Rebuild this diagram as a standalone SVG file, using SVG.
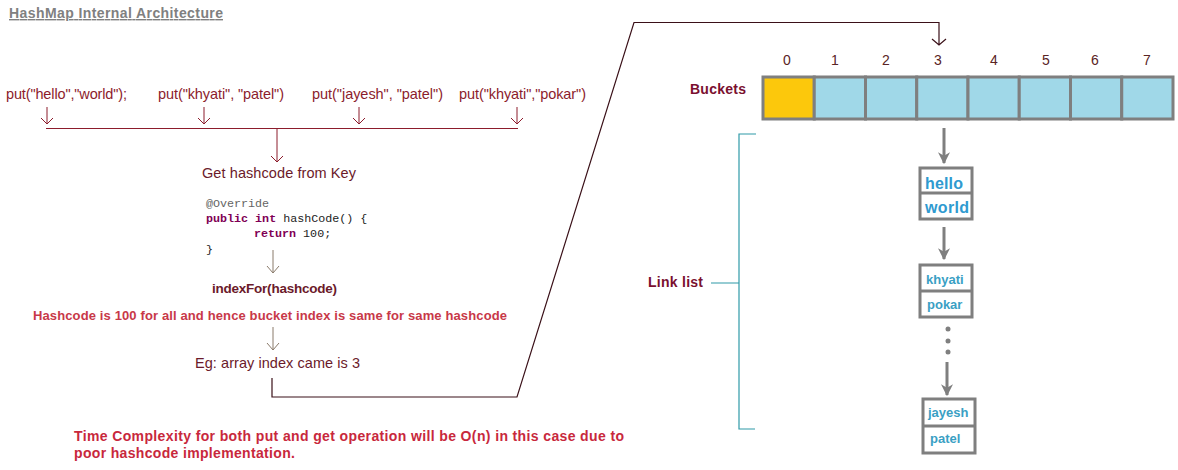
<svg xmlns="http://www.w3.org/2000/svg" width="1178" height="470" viewBox="0 0 1178 470">
<style>
text{font-family:"Liberation Sans",Arial,sans-serif}
.put{font-size:14.5px;fill:#8c1c2c}
.dark{font-size:14.5px;fill:#6b1a2a}
.code{font-family:"Liberation Mono","DejaVu Sans Mono",monospace;font-size:11.7px;fill:#222}
.kw{fill:#7f0055;font-weight:bold}
.ann{fill:#646464}
.red{fill:#c8283c;font-weight:bold}
.idx{font-size:14px;fill:#5a2424;text-anchor:middle}
.lbl{font-size:14px;font-weight:bold;fill:#7a1030}
.cell{fill:#a0d8e8;stroke:#7f7f7f;stroke-width:3}
.nbox{fill:#fff;stroke:#7f7f7f;stroke-width:3}
.nt1{font-size:16px;font-weight:bold;fill:#2f9ad0}
.nt2{font-size:13px;font-weight:bold;fill:#3aa0c4}
.thin{fill:none;stroke:#8c1c2c;stroke-width:1}
.thin2{fill:none;stroke:#8a7a6a;stroke-width:1}
.conn{fill:none;stroke:#3a1018;stroke-width:1.2}
.teal{fill:none;stroke:#2f9aa8;stroke-width:1.2}
.garr{fill:none;stroke:#7f7f7f;stroke-width:3}
</style>
<defs>
<marker id="ga" viewBox="0 0 10 10" refX="9" refY="5" markerWidth="4" markerHeight="4" orient="auto" markerUnits="strokeWidth">
<path d="M0,0 L10,5 L0,10 L3,5 z" fill="#7f7f7f"/>
</marker>
</defs>

<g id="title">
<text x="9" y="18" font-size="14" font-weight="bold" fill="#808080" text-decoration="underline" textLength="214">HashMap Internal Architecture</text>
</g>

<g id="puts">
<text class="put" x="6" y="99" textLength="121">put("hello","world");</text>
<text class="put" x="158" y="99" textLength="126">put("khyati", "patel")</text>
<text class="put" x="312" y="99" textLength="131">put("jayesh", "patel")</text>
<text class="put" x="459" y="99" textLength="127">put("khyati","pokar")</text>
</g>

<g id="connectors">
<path class="thin" d="M47,107 V124 M41,118 L47,124 L53,118"/>
<path class="thin" d="M204,107 V124 M198,118 L204,124 L210,118"/>
<path class="thin" d="M359,107 V124 M353,118 L359,124 L365,118"/>
<path class="thin" d="M517,107 V124 M511,118 L517,124 L523,118"/>
<path class="thin" d="M46,128.5 H518"/>
<path class="thin" d="M277,129 V162 M271,156 L277,162 L283,156"/>
<path class="thin2" d="M273,250 V273 M267,266 L273,273 L279,266"/>
<path class="thin2" d="M273,327 V350 M267,343 L273,350 L279,343"/>
<path class="conn" d="M272,378 V397 H517 L634,22.5 H939 V45 M932,39 L939,45 L946,39"/>
<path class="teal" d="M756,134 H739 V429 H755 M711,283 H739"/>
<path class="garr" d="M944,128 V163" marker-end="url(#ga)"/>
<path class="garr" d="M944,227 V259" marker-end="url(#ga)"/>
<path class="garr" d="M947,362 V395" marker-end="url(#ga)"/>
<circle cx="948" cy="329" r="2.5" fill="#7f7f7f"/>
<circle cx="948" cy="341" r="2.5" fill="#7f7f7f"/>
<circle cx="948" cy="352" r="2.5" fill="#7f7f7f"/>
</g>

<g id="get-hashcode">
<text class="dark" x="202" y="178" textLength="154">Get hashcode from Key</text>
</g>

<g id="code">
<text class="code ann" x="206" y="207">@Override</text>
<text class="code" x="206" y="222"><tspan class="kw">public</tspan> <tspan class="kw">int</tspan> hashCode() {</text>
<text class="code" x="254" y="237"><tspan class="kw">return</tspan> 100;</text>
<text class="code" x="206" y="253">}</text>
</g>

<g id="indexfor">
<text x="212" y="293" font-size="13.5" font-weight="bold" fill="#6b1a2a" textLength="125">indexFor(hashcode)</text>
</g>

<g id="hashcode-note">
<text class="red" x="33" y="320" font-size="13" textLength="474" style="fill:#c83848">Hashcode is 100 for all and hence bucket index is same for same hashcode</text>
</g>

<g id="eg">
<text class="dark" x="195" y="368" textLength="165">Eg: array index came is 3</text>
</g>

<g id="time-complexity">
<text class="red" x="74" y="441" font-size="14" textLength="550">Time Complexity for both put and get operation will be O(n) in this case due to</text>
<text class="red" x="74" y="458" font-size="14" textLength="221">poor hashcode implementation.</text>
</g>

<g id="buckets">
<text class="lbl" x="690" y="94" textLength="56">Buckets</text>
<text class="idx" x="787" y="65">0</text>
<text class="idx" x="835" y="65">1</text>
<text class="idx" x="886" y="65">2</text>
<text class="idx" x="938" y="65">3</text>
<text class="idx" x="994" y="65">4</text>
<text class="idx" x="1046" y="65">5</text>
<text class="idx" x="1095" y="65">6</text>
<text class="idx" x="1147" y="65">7</text>
<rect class="cell" x="763" y="77" width="51.25" height="42" style="fill:#fcc80c"/>
<rect class="cell" x="814.25" y="77" width="51.25" height="42"/>
<rect class="cell" x="865.5" y="77" width="51.25" height="42"/>
<rect class="cell" x="916.75" y="77" width="51.25" height="42"/>
<rect class="cell" x="968" y="77" width="51.25" height="42"/>
<rect class="cell" x="1019.25" y="77" width="51.25" height="42"/>
<rect class="cell" x="1070.5" y="77" width="51.25" height="42"/>
<rect class="cell" x="1121.75" y="77" width="51.25" height="42"/>
</g>

<g id="link-list-label">
<text class="lbl" x="648" y="287" textLength="55">Link list</text>
</g>

<g id="node-hello">
<rect class="nbox" x="920" y="168" width="52" height="51"/>
<line x1="920" y1="193" x2="972" y2="193" stroke="#7f7f7f" stroke-width="3"/>
<text class="nt1" x="925" y="189" textLength="38">hello</text>
<text class="nt1" x="925" y="213" textLength="44">world</text>
</g>

<g id="node-khyati">
<rect class="nbox" x="920" y="265" width="52" height="52"/>
<line x1="920" y1="291" x2="972" y2="291" stroke="#7f7f7f" stroke-width="3"/>
<text class="nt2" x="926" y="284">khyati</text>
<text class="nt2" x="927" y="309">pokar</text>
</g>

<g id="node-jayesh">
<rect class="nbox" x="923" y="399" width="52" height="54"/>
<line x1="923" y1="426" x2="975" y2="426" stroke="#7f7f7f" stroke-width="3"/>
<text class="nt2" x="928" y="417">jayesh</text>
<text class="nt2" x="930" y="443">patel</text>
</g>
</svg>
